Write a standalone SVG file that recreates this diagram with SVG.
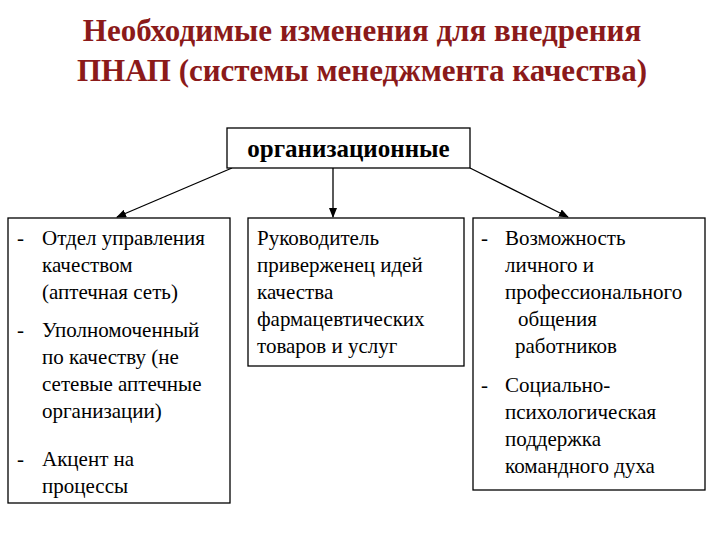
<svg xmlns="http://www.w3.org/2000/svg" width="720" height="540" viewBox="0 0 720 540">
<style>
.t{font-family:"Liberation Serif","Times New Roman","DejaVu Serif",serif;font-size:31px;font-weight:bold;fill:#8B1A1A;text-anchor:middle}
.b{fill:#fff;stroke:#000;stroke-width:1.3}
.x{font-family:"Liberation Serif","Times New Roman","DejaVu Serif",serif;font-size:21px;fill:#000}
.c{stroke:#000;stroke-width:1.3;fill:none;marker-end:url(#a)}
</style>
<defs><marker id="a" markerWidth="10" markerHeight="8" refX="9" refY="4" orient="auto" markerUnits="userSpaceOnUse"><path d="M0,0L10,4L0,8Z" fill="#000"/></marker></defs>
<rect width="720" height="540" fill="#fff"/>
<text class="t" x="362" y="41">Необходимые изменения для внедрения</text>
<text class="t" x="362" y="81">ПНАП (системы менеджмента качества)</text>
<g id="connectors">
<line class="c" x1="232" y1="168" x2="117" y2="217"/>
<line class="c" x1="333" y1="168" x2="333" y2="217"/>
<line class="c" x1="470" y1="168" x2="568" y2="217"/>
</g>
<g id="top"><rect class="b" x="227" y="128" width="243" height="40"/>
<text class="x" x="348.5" y="157" text-anchor="middle" style="font-size:25px;font-weight:bold">организационные</text></g>
<g id="left"><rect class="b" x="8" y="218" width="222" height="285"/>
<text class="x"><tspan x="17" y="245">-</tspan><tspan x="42" y="245">Отдел управления</tspan><tspan x="42" y="272">качеством</tspan><tspan x="42" y="299">(аптечная сеть)</tspan><tspan x="17" y="337">-</tspan><tspan x="42" y="337">Уполномоченный</tspan><tspan x="42" y="364">по качеству (не</tspan><tspan x="42" y="391">сетевые аптечные</tspan><tspan x="42" y="418">организации)</tspan><tspan x="17" y="466">-</tspan><tspan x="42" y="466">Акцент на</tspan><tspan x="42" y="493">процессы</tspan></text></g>
<g id="middle"><rect class="b" x="248" y="218" width="216" height="148"/>
<text class="x"><tspan x="257" y="245">Руководитель</tspan><tspan x="257" y="272">приверженец идей</tspan><tspan x="257" y="299">качества</tspan><tspan x="257" y="326">фармацевтических</tspan><tspan x="257" y="353">товаров и услуг</tspan></text></g>
<g id="right"><rect class="b" x="473" y="218" width="232" height="272"/>
<text class="x"><tspan x="481" y="245">-</tspan><tspan x="505" y="245">Возможность</tspan><tspan x="505" y="272">личного и</tspan><tspan x="505" y="299">профессионального</tspan><tspan x="518" y="326">общения</tspan><tspan x="515" y="353">работников</tspan><tspan x="481" y="392">-</tspan><tspan x="505" y="392">Социально-</tspan><tspan x="505" y="419">психологическая</tspan><tspan x="505" y="446">поддержка</tspan><tspan x="505" y="473">командного духа</tspan></text></g>
</svg>
